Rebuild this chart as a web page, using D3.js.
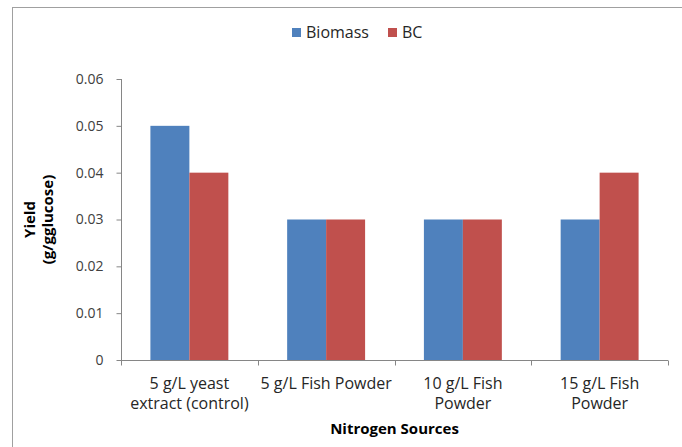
<!DOCTYPE html>
<html>
<head>
<meta charset="utf-8">
<script src="https://cdn.jsdelivr.net/npm/d3@7"></script>
<style>
  body { margin: 0; background: #fff; }
  svg { display: block; font-family: "Open Sans", sans-serif; }
</style>
</head>
<body>
<svg id="chart" width="682" height="447"></svg>
<script>
const categories = [
  ["5 g/L yeast", "extract (control)"],
  ["5 g/L Fish Powder"],
  ["10 g/L Fish", "Powder"],
  ["15 g/L Fish", "Powder"]
];
const seriesNames = ["Biomass", "BC"];
const biomass = [0.05, 0.03, 0.03, 0.03];
const bc = [0.04, 0.03, 0.03, 0.04];
const yTicks = [0, 0.01, 0.02, 0.03, 0.04, 0.05, 0.06];
const colors = ["#4F81BD", "#C0504D"];
const xTitle = "Nitrogen Sources";
const yTitle = ["Yield", "(g/gglucose)"];

const svg = d3.select("#chart");
const mLeft = 121, mRight = 668, mTop = 79, mBottom = 360;

// outer border (only top/left visible in reference)
svg.append("rect").attr("x", 12.5).attr("y", 7.5).attr("width", 700).attr("height", 500)
  .attr("fill", "none").attr("stroke", "#a0a0a0").attr("stroke-width", 1);

const idx = d3.range(categories.length);
const x0 = d3.scaleBand().domain(idx).range([mLeft, mRight]).paddingInner(0.43).paddingOuter(0.215);
const x1 = d3.scaleBand().domain(seriesNames).range([0, x0.bandwidth()]);
const y = d3.scaleLinear().domain([0, 0.06]).range([mBottom, mTop]);

const data = idx.map(i => ({ i, vals: [biomass[i], bc[i]] }));

// bars
const g = svg.append("g");
g.selectAll("g.grp").data(data).enter().append("g")
  .attr("transform", d => `translate(${x0(d.i)},0)`)
  .selectAll("rect").data(d => d.vals.map((v, k) => ({ v, k })))
  .enter().append("rect")
  .attr("x", d => x1(seriesNames[d.k]))
  .attr("y", d => y(d.v))
  .attr("width", x1.bandwidth())
  .attr("height", d => y(0) - y(d.v))
  .attr("fill", d => colors[d.k]);

// y axis
const yAxis = d3.axisLeft(y).tickValues(yTicks).tickSize(5).tickPadding(13)
  .tickFormat(d => d === 0 ? "0" : d3.format(".2f")(d));
const ya = svg.append("g").attr("transform", `translate(${mLeft + 0.5},0)`).call(yAxis);
ya.select(".domain").attr("stroke", "#868686").attr("d", `M0,${mTop}V${mBottom}`);
ya.selectAll(".tick line").attr("stroke", "#868686");
ya.selectAll(".tick text").attr("font-size", 14).attr("fill", "#404040")
  .attr("font-family", "Open Sans, sans-serif");

// x axis
const xa = svg.append("g").attr("transform", `translate(0,${mBottom + 0.5})`);
xa.append("line").attr("x1", mLeft).attr("x2", mRight).attr("y1", 0).attr("y2", 0).attr("stroke", "#868686");
const stepW = x0.step();
const boundaries = d3.range(categories.length + 1).map(k => mLeft + k * stepW);
xa.selectAll("line.tk").data(boundaries).enter().append("line")
  .attr("x1", d => Math.round(d) + 0.5).attr("x2", d => Math.round(d) + 0.5)
  .attr("y1", 0).attr("y2", 5).attr("stroke", "#868686");

// category labels
const cl = svg.append("g");
idx.forEach(i => {
  const cx = x0(i) + x0.bandwidth() / 2;
  const t = cl.append("text").attr("x", cx).attr("y", 389).attr("text-anchor", "middle")
    .attr("font-size", 16).attr("fill", "#262626");
  categories[i].forEach((line, k) => {
    t.append("tspan").attr("x", cx).attr("dy", k === 0 ? 0 : 20).text(line);
  });
});

// x title
svg.append("text").attr("x", (mLeft + mRight) / 2).attr("y", 434).attr("text-anchor", "middle")
  .attr("font-size", 15).attr("font-weight", "bold").attr("fill", "#000").text(xTitle);

// y title
const yt = svg.append("text").attr("transform", `translate(35,${(mTop + mBottom) / 2}) rotate(-90)`)
  .attr("text-anchor", "middle").attr("font-size", 15).attr("font-weight", "bold").attr("fill", "#000");
yTitle.forEach((line, k) => {
  yt.append("tspan").attr("x", 0).attr("dy", k === 0 ? 0 : 18).text(line);
});

// legend
const lg = svg.append("g");
const legendX = [292, 388];
seriesNames.forEach((name, k) => {
  lg.append("rect").attr("x", legendX[k]).attr("y", 28).attr("width", 9).attr("height", 9).attr("fill", colors[k]);
  lg.append("text").attr("x", legendX[k] + 14).attr("y", 38).attr("font-size", 16)
    .attr("fill", "#262626").text(name);
});
</script>
</body>
</html>
